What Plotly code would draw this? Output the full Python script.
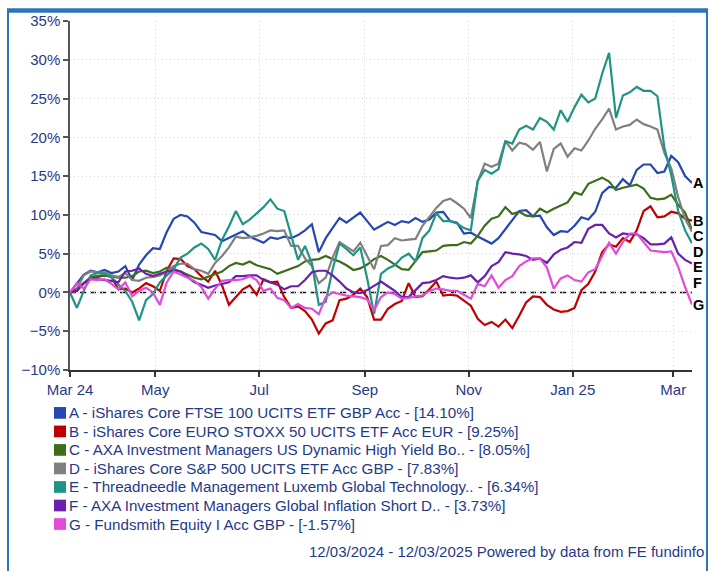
import pandas as pd
import plotly.graph_objects as go

# ---------------- data ----------------
start_date = "2024-03-12"
end_date = "2025-03-12"
n_points = 91
dates = pd.date_range(start_date, end_date, periods=n_points)

tick_dates = ["2024-03-12", "2024-05-01", "2024-07-01", "2024-09-01",
              "2024-11-01", "2025-01-01", "2025-03-01"]
tick_labels = ["Mar 24", "May", "Jul", "Sep", "Nov", "Jan 25", "Mar"]

letters = ["A", "B", "C", "D", "E", "F", "G"]
names = [
    "iShares Core FTSE 100 UCITS ETF GBP Acc",
    "iShares Core EURO STOXX 50 UCITS ETF Acc EUR",
    "AXA Investment Managers US Dynamic High Yield Bo..",
    "iShares Core S&P 500 UCITS ETF Acc GBP",
    "Threadneedle Management Luxemb Global Technology..",
    "AXA Investment Managers Global Inflation Short D..",
    "Fundsmith Equity I Acc GBP",
]
final_returns = [14.10, 9.25, 8.05, 7.83, 6.34, 3.73, -1.57]
colors = ["#2447b3", "#c00000", "#3b6d1b", "#808080", "#1f9484", "#6a1fae", "#e04cd8"]

series_a = [0, 1.2, 2.3, 2.8, 2.6, 2.9, 2.5, 2.7, 3.4, 1.6,
            3.6, 4.8, 5.7, 5.6, 7.8, 9.5, 10.0, 9.8, 9.0, 7.8,
            7.6, 7.4, 6.6, 7.0, 7.4, 7.9, 7.2, 6.8, 6.4, 7.1,
            6.9, 7.2, 7.0, 7.4, 8.0, 8.8, 5.2, 7.0, 8.3, 9.6,
            9.0, 9.6, 10.3, 9.2, 8.1, 8.6, 9.1, 8.7, 9.2, 9.0,
            9.6, 9.1, 9.4, 10.3, 10.4, 9.2, 9.0, 7.6, 7.7, 7.2,
            6.8, 6.3, 7.0, 8.2, 9.3, 10.5, 10.6, 9.8, 9.9, 8.4,
            7.4, 7.9, 7.8, 8.6, 9.7, 9.4, 10.4, 12.8, 13.6, 13.5,
            14.6, 13.8, 15.8, 16.5, 16.5, 15.4, 15.6, 17.6, 16.8, 15.0,
            14.10]
series_b = [0, 0.2, 1.2, 1.8, 2.0, 2.2, 2.0, 0.4, 0.5, 0.0,
            0.5, 1.2, 0.8, 0.2, 2.8, 4.4, 4.3, 3.4, 3.0, 2.1,
            1.4, 2.8, 0.9, -1.6, -0.6, 0.4, 0.9, -0.3, 1.7, 1.3,
            1.4, -0.6, -2.0, -1.8, -2.4, -3.5, -5.3, -4.0, -3.6, -1.0,
            -0.8, -0.3, 0.5, -0.6, -3.5, -3.5, -2.1, -1.5, -1.1, 1.2,
            -0.6, -0.5, 0.4, 1.4, -0.4, -0.3, -0.4, -1.1, -1.7, -3.4,
            -4.2, -3.8, -4.4, -3.5, -4.6, -3.0, -1.3, -0.5, -0.6, -1.6,
            -2.2, -2.5, -2.4, -2.0, 0.3, 1.1, 2.7, 5.2, 6.2, 5.9,
            7.0, 6.5, 8.0, 10.5, 11.1, 9.7, 9.8, 10.4, 10.2, 9.5,
            9.25]
series_c = [0, 0.5, 1.2, 2.0, 2.1, 2.2, 2.1, 1.9, 1.9, 2.1,
            2.7, 2.8, 2.5, 2.7, 3.2, 3.0, 2.7, 2.3, 1.9, 1.7,
            2.0, 2.3, 2.7, 3.4, 3.8, 3.6, 4.0, 3.5, 3.2, 3.0,
            2.4, 2.7, 3.1, 3.4, 4.0, 4.2, 4.3, 4.7, 4.3, 4.0,
            3.5, 2.9, 3.1, 3.6, 4.3, 4.7, 4.2, 3.6, 3.0, 2.9,
            4.0, 5.2, 5.3, 5.4, 6.0, 6.1, 6.1, 6.5, 6.3, 7.3,
            8.6, 9.5, 9.8, 11.0, 10.1, 10.4, 9.9, 9.8, 10.8, 10.3,
            10.8, 11.2, 11.6, 12.9, 12.6, 14.0, 14.4, 14.8, 14.3, 13.2,
            13.5, 13.7, 13.9, 13.4, 12.2, 12.0, 12.1, 12.6, 11.3, 10.3,
            8.05]
series_d = [0, 0.5, 2.2, 2.7, 2.6, 2.6, 2.2, 2.0, 2.5, 1.6,
            1.5, 1.9, 2.0, 2.2, 2.7, 3.4, 3.7, 3.7, 3.0, 2.8,
            2.4, 3.8, 4.7, 5.8, 7.2, 7.0, 7.1, 7.3, 7.6, 8.0,
            7.9, 8.0, 6.0, 6.0, 4.4, 3.4, 1.2, 1.9, 4.5, 6.5,
            5.9, 5.3, 6.4, 4.6, 3.0, 6.0, 6.1, 7.0, 6.7, 6.8,
            6.9, 8.6, 9.7, 10.9, 11.8, 12.1, 11.5, 10.8, 9.6, 14.3,
            16.6, 16.2, 16.6, 19.5, 18.3, 19.3, 19.1, 18.4, 19.4, 15.6,
            18.5, 19.2, 17.5, 18.6, 18.3, 19.6, 21.1, 22.3, 23.7, 21.0,
            21.4, 21.6, 22.3, 21.7, 21.4, 21.0, 18.0, 16.0, 12.3, 9.5,
            7.83]
series_e = [0, -2.0, 0.2, 2.2, 2.5, 2.4, 2.0, 1.0, 0.2, -1.2,
            -3.6, -1.0, -0.2, 1.3, 2.2, 3.0, 4.5, 5.0, 5.8, 6.3,
            5.6, 4.2, 6.8, 8.5, 10.5, 8.8, 9.4, 10.2, 11.0, 12.0,
            10.8, 10.5, 7.5, 4.2, 6.0, 3.8, -1.6, -1.2, 3.0, 6.3,
            5.6, 4.8, 5.8, 1.8, -2.8, 2.4, 3.1, 3.5, 4.5, 5.0,
            4.0, 7.0, 8.0, 10.2, 9.2, 9.2, 8.9, 8.3, 8.0, 14.4,
            15.8, 15.3, 15.9, 19.5, 19.2, 21.0, 21.5, 21.0, 22.5, 22.0,
            21.0, 23.5, 22.0, 23.9, 25.5, 24.5, 25.0, 28.2, 30.9, 22.5,
            25.4, 25.8, 26.5, 26.0, 26.0, 25.3, 18.7, 15.1, 10.5, 8.0,
            6.34]
series_f = [0, 0.3, 1.2, 1.7, 1.7, 1.6, 1.5, 1.3, 2.7, 2.8,
            3.1, 2.4, 2.1, 2.4, 2.7, 2.8, 2.7, 2.0, 1.3, 1.0,
            0.6, 0.9, 1.1, 1.3, 2.1, 2.1, 2.2, 2.2, 1.6, 1.3,
            1.0, 0.4, 0.8, 0.8, 1.6, 2.6, 2.8, 2.8, 2.2, 1.4,
            0.5, 0.0, -0.1, 0.3, 0.9, 1.4, 0.8, 0.2, -0.6, -0.6,
            0.3, 1.2, 1.3, 1.6, 2.1, 1.9, 1.8, 1.9, 2.2, 1.3,
            2.1, 3.4, 3.9, 5.2, 5.0, 4.9, 4.7, 4.2, 4.4, 3.8,
            4.9, 5.5, 5.8, 6.5, 6.4, 8.2, 8.7, 8.7, 7.6, 7.1,
            7.6, 7.5, 7.5, 7.0, 6.2, 6.2, 6.3, 7.1, 5.0, 4.2,
            3.73]
series_g = [0, 1.2, 0.5, 1.7, 1.6, 1.7, 1.1, 0.4, 1.3, -0.5,
            0.2, 0.6, 0.0, -1.6, 1.3, 2.7, 2.3, 1.9, 1.5, 0.7,
            -0.8, 0.5, 1.5, 1.6, 1.6, 1.7, 2.1, 1.6, 0.2, 0.5,
            -0.7, -1.0, -2.0, -1.5, -2.0, -2.1, -2.8, -0.6, 0.0, -0.2,
            -0.4, -0.5, -0.6, -0.9, -2.3, -0.6, 0.0, -0.2, -0.8, -0.7,
            -0.5, -0.4, 0.2, 0.5, 0.4, 0.2, 0.2, -0.3, -0.8, 1.1,
            0.8, 2.2, 0.6, 1.6, 2.1, 3.4, 4.0, 4.4, 4.4, 3.2,
            0.5, 1.8, 2.2, 1.6, 1.4, 2.6, 3.0, 4.7, 6.4, 5.0,
            6.5, 7.6, 7.6, 6.5, 5.4, 5.3, 5.2, 5.3, 3.3, 0.7,
            -1.57]

all_series = [series_a, series_b, series_c, series_d, series_e, series_f, series_g]
for s in all_series:
    assert len(s) == n_points, len(s)

footer_text = "12/03/2024 - 12/03/2025 Powered by data from FE fundinfo"

# ---------------- layout geometry (pixels) ----------------
W, H = 718, 571
PL, PR, PT, PB = 70, 692, 12, 370   # plot area edges in pixels
FONT = "Arial, 'Liberation Sans', sans-serif"
TEXT_COLOR = "#1f3a8a"
BORDER = "#2e75b6"


def px_x(px):
    return (px - PL) / (PR - PL)


def px_y(py):
    return (PB - py) / (PB - PT)


fig = go.Figure()
for letter, vals, color in zip(letters, all_series, colors):
    fig.add_trace(go.Scatter(
        x=dates, y=vals, mode="lines", name=letter,
        line=dict(color=color, width=2.2),
        showlegend=False, hoverinfo="skip",
    ))

shapes = []
annotations = []

# zero line (dashed)
shapes.append(dict(type="line", xref="paper", x0=0, x1=1, yref="y", y0=0, y1=0,
                   line=dict(color="#111111", width=1.4, dash="6px,4px"), layer="below"))

# end labels A-G, de-overlapped from final values
order = sorted(range(len(letters)), key=lambda k: -final_returns[k])
gap = 2.0
label_y = {}
prev = None
for k in order:
    y = final_returns[k]
    if prev is not None and y > prev - gap:
        y = prev - gap
    label_y[k] = y
    prev = y
for k, letter in enumerate(letters):
    annotations.append(dict(
        x=dates[-1], y=label_y[k], xref="x", yref="y", text=f"<b>{letter}</b>",
        showarrow=False, xanchor="left", yanchor="middle", xshift=0, borderpad=0,
        font=dict(family=FONT, size=14.5, color="#000000"),
    ))

# custom legend (square swatches + text)
row0, row_step = 414, 19
for k, (letter, name, ret, color) in enumerate(zip(letters, names, final_returns, colors)):
    cy = row0 + row_step * k
    shapes.append(dict(type="rect", xref="paper", yref="paper",
                       x0=px_x(54), x1=px_x(66), y0=px_y(cy + 6), y1=px_y(cy - 6),
                       fillcolor=color, line=dict(width=0)))
    annotations.append(dict(
        x=px_x(67), y=px_y(cy), xref="paper", yref="paper",
        text=f"{letter} - {name} - [{ret:.2f}%]",
        showarrow=False, xanchor="left", yanchor="middle",
        font=dict(family=FONT, size=15.2, color=TEXT_COLOR),
    ))

# footer
annotations.append(dict(
    x=px_x(706), y=px_y(556), xref="paper", yref="paper", text=footer_text,
    showarrow=False, xanchor="right", yanchor="middle",
    font=dict(family=FONT, size=15, color=TEXT_COLOR),
))

# blue frame
shapes.append(dict(type="rect", xref="paper", yref="paper",
                   x0=px_x(8), x1=px_x(707), y0=px_y(590), y1=px_y(1.5),
                   line=dict(color=BORDER, width=2), fillcolor="rgba(0,0,0,0)"))
shapes.append(dict(type="rect", xref="paper", yref="paper",
                   x0=px_x(7), x1=px_x(708), y0=px_y(3.5), y1=px_y(-1),
                   line=dict(width=0), fillcolor=BORDER))

fig.update_layout(
    width=W, height=H,
    margin=dict(l=PL, r=W - PR, t=PT, b=H - PB, pad=0),
    paper_bgcolor="white", plot_bgcolor="white",
    font=dict(family=FONT, size=15, color=TEXT_COLOR),
    showlegend=False,
    shapes=shapes, annotations=annotations,
    xaxis=dict(
        range=[dates[0], dates[-1]],
        tickvals=pd.to_datetime(tick_dates), ticktext=tick_labels,
        showline=True, linecolor="#333333", linewidth=1.5,
        ticks="outside", ticklen=5, tickcolor="#333333", tickwidth=1.5,
        showgrid=True, gridcolor="#d0d0d0", griddash="1px,3px", gridwidth=1,
        zeroline=False, tickfont=dict(size=15, color=TEXT_COLOR),
    ),
    yaxis=dict(
        range=[-10, 35], dtick=5, tick0=0, ticksuffix="%",
        showline=True, linecolor="#555555", linewidth=1.5,
        ticks="outside", ticklen=5, tickcolor="#555555", tickwidth=1.5,
        showgrid=True, gridcolor="#d0d0d0", griddash="1px,3px", gridwidth=1,
        zeroline=False, tickfont=dict(size=15, color=TEXT_COLOR),
    ),
)

fig.write_html("out.html", config={"displayModeBar": False},
               post_script="document.body.style.margin='0';")
